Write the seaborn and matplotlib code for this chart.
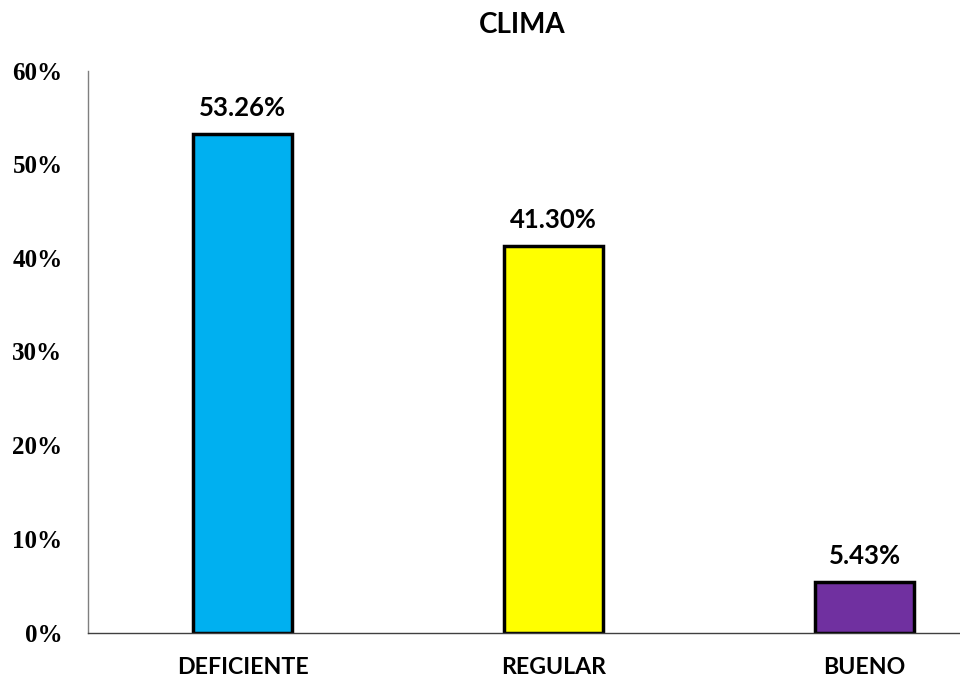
import matplotlib
matplotlib.use("Agg")
import matplotlib.pyplot as plt
import seaborn as sns
import pandas as pd
from matplotlib.ticker import FuncFormatter

categories = ["DEFICIENTE", "REGULAR", "BUENO"]
values = [0.5326, 0.4130, 0.0543]
colors = ["#00B0F0", "#FFFF00", "#7030A0"]
y_ticks = [0.0, 0.1, 0.2, 0.3, 0.4, 0.5, 0.6]

sns.set_theme(style="white")
plt.rcParams["font.family"] = ["Lato", "DejaVu Sans"]

df = pd.DataFrame({"nivel": categories, "porcentaje": values})

W, H = 960, 681
fig = plt.figure(figsize=(W / 100, H / 100), dpi=100)
ax = fig.add_axes([87.5 / W, (H - 632.5) / H, (1020 - 87.5) / W, 562 / H])

sns.barplot(data=df, x="nivel", y="porcentaje", hue="nivel",
            palette=colors, order=categories, hue_order=categories,
            width=0.318, saturation=1, edgecolor="black", linewidth=2.5,
            legend=False, ax=ax)

ax.set_ylim(0, 0.6)
ax.set_xlim(-0.5, 2.5)
ax.set_yticks(y_ticks)
ax.yaxis.set_major_formatter(FuncFormatter(lambda v, _: f"{v * 100:.0f}%"))
ax.set_xlabel("")
ax.set_ylabel("")

for lbl in ax.get_yticklabels():
    lbl.set_fontfamily("Liberation Serif")
    lbl.set_fontweight("bold")
    lbl.set_fontsize(18)
for lbl in ax.get_xticklabels():
    lbl.set_fontweight("bold")
    lbl.set_fontsize(16.7)

ax.tick_params(axis="y", length=0, pad=18, colors="black")
ax.tick_params(axis="x", length=0, pad=18, colors="black")

for side in ("top", "right"):
    ax.spines[side].set_visible(False)
ax.spines["left"].set_color("#7F7F7F")
ax.spines["bottom"].set_color("#404040")
ax.spines["left"].set_linewidth(1.0)
ax.spines["bottom"].set_linewidth(1.0)

for i, v in enumerate(values):
    ax.annotate(f"{v * 100:.2f}%", (i, v), xytext=(0, 10), textcoords="offset points",
                ha="center", va="bottom", fontsize=18.5, fontweight="bold", color="black")

fig.text(522 / W, 1 - 25 / H, "CLIMA", ha="center", va="center",
         fontsize=20, fontweight="bold", color="black")

fig.savefig("out.png", dpi=100, facecolor="white")
